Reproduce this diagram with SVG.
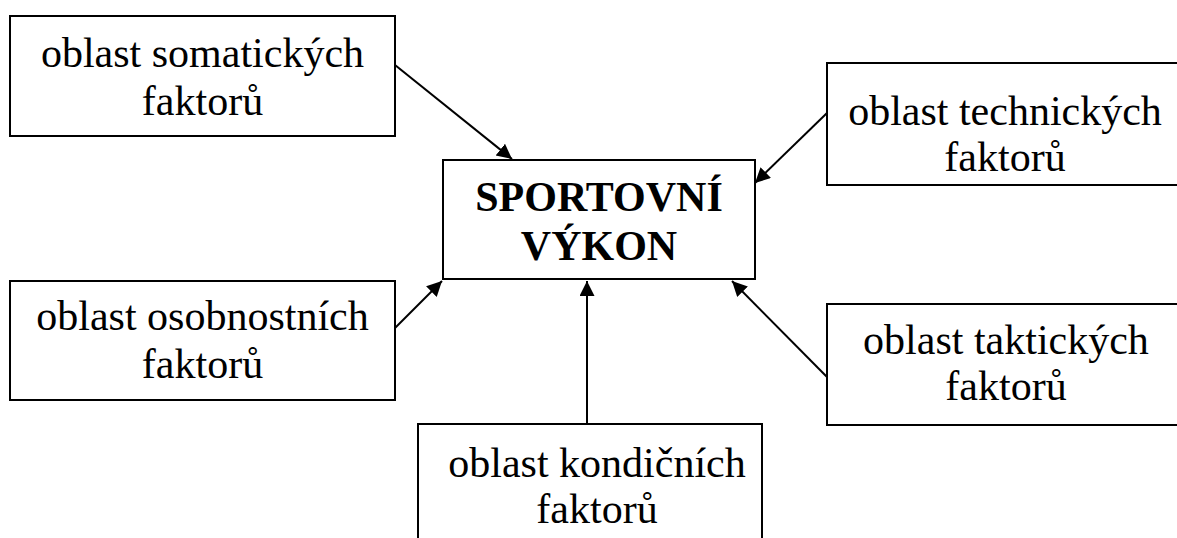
<svg xmlns="http://www.w3.org/2000/svg" width="1177" height="538" viewBox="0 0 1177 538">
  <style>
    .box { fill: #ffffff; stroke: #000000; stroke-width: 2; }
    .lbl { font-family: "Liberation Serif", "Times New Roman", serif; font-size: 42px; fill: #000000; text-anchor: middle; }
    .main { font-weight: bold; }
    .conn { stroke: #000000; stroke-width: 2; fill: none; marker-end: url(#arrow); }
  </style>
  <defs>
    <marker id="arrow" markerUnits="userSpaceOnUse" markerWidth="16" markerHeight="16" viewBox="0 0 16 16" refX="15" refY="7.5" orient="auto">
      <path d="M0,0 L15,7.5 L0,15 Z" fill="#000000"/>
    </marker>
  </defs>
  <rect width="1177" height="538" fill="#ffffff"/>

  <g id="connectors">
    <line class="conn" x1="395" y1="65" x2="512" y2="159"/>
    <line class="conn" x1="827" y1="113" x2="755" y2="183"/>
    <line class="conn" x1="395" y1="328" x2="442" y2="281"/>
    <line class="conn" x1="587" y1="424" x2="587" y2="281"/>
    <line class="conn" x1="827" y1="377" x2="732" y2="281"/>
  </g>

  <g id="node-main">
    <rect class="box" x="443" y="160" width="312" height="119"/>
    <text class="lbl main" x="599" y="211">SPORTOVNÍ</text>
    <text class="lbl main" x="599" y="260">VÝKON</text>
  </g>

  <g id="node-somaticke">
    <rect class="box" x="10" y="16" width="385" height="120"/>
    <text class="lbl" x="202.5" y="67">oblast somatických</text>
    <text class="lbl" x="202.5" y="115">faktorů</text>
  </g>

  <g id="node-technicke">
    <rect class="box" x="827" y="63" width="360" height="122"/>
    <text class="lbl" x="1005" y="125">oblast technických</text>
    <text class="lbl" x="1005" y="171">faktorů</text>
  </g>

  <g id="node-osobnostni">
    <rect class="box" x="10" y="281" width="385" height="119"/>
    <text class="lbl" x="202.5" y="330">oblast osobnostních</text>
    <text class="lbl" x="202.5" y="378">faktorů</text>
  </g>

  <g id="node-takticke">
    <rect class="box" x="827" y="304" width="360" height="121"/>
    <text class="lbl" x="1006" y="354">oblast taktických</text>
    <text class="lbl" x="1006" y="400">faktorů</text>
  </g>

  <g id="node-kondicni">
    <rect class="box" x="418" y="424" width="344" height="140"/>
    <text class="lbl" x="597" y="477">oblast kondičních</text>
    <text class="lbl" x="597" y="523">faktorů</text>
  </g>
</svg>
